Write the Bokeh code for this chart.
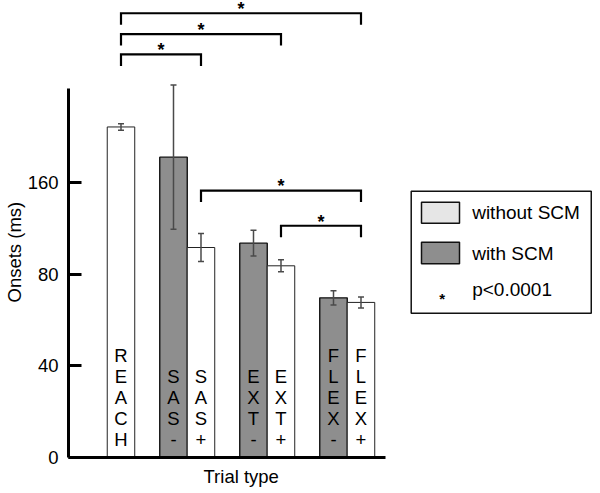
import numpy as np
from bokeh.plotting import figure
from bokeh.models import (Range1d, FixedTicker, Whisker, ColumnDataSource,
                          TeeHead, Title)
from bokeh.core.properties import value
from bokeh.embed import file_html
from bokeh.resources import INLINE

# ---------------- data ----------------
categories = ["REACH", "SAS-", "SAS+", "EXT-", "EXT+", "FLEX-", "FLEX+"]
bar_text = ["REACH", "SAS-", "SAS+", "EXT-", "EXT+", "FLEX-", "FLEX+"]
scm = ["without", "with", "without", "with", "without", "with", "without"]
onsets = [144.5, 131.3, 91.8, 93.7, 83.8, 69.8, 67.8]
errors = [1.4, 31.5, 6.1, 5.6, 2.6, 3.1, 2.4]
groups = [["REACH"], ["SAS-", "SAS+"], ["EXT-", "EXT+"], ["FLEX-", "FLEX+"]]
tick_values = [0, 40, 80, 120]
tick_labels = ["0", "40", "80", "160"]
comparisons = [("REACH", "FLEX+", 194.2), ("REACH", "EXT+", 185.1),
               ("REACH", "SAS+", 176.2), ("SAS+", "FLEX+", 116.7),
               ("EXT+", "FLEX+", 101.3)]
legend_labels = ["without SCM", "with SCM", "p<0.0001"]

FONT = "Liberation Sans"
DARK = "#8e8e8e"

# ---------------- layout of bars ----------------
bar_w = 1.0
gap = 0.909
xpos = {}
cursor = -0.5
for g in groups:
    for c in g:
        xpos[c] = cursor + bar_w / 2
        cursor += bar_w
    cursor += gap
xs = [xpos[c] for c in categories]

fills = ["white" if s == "without" else DARK for s in scm]
lines = ["#222222" if s == "without" else "#111111" for s in scm]
lw = [1.0 if s == "without" else 1.4 for s in scm]

src = ColumnDataSource(dict(
    x=xs, top=onsets, fill=fills, line=lines, lw=lw,
    upper=[o + e for o, e in zip(onsets, errors)],
    lower=[o - e for o, e in zip(onsets, errors)],
    txt=["\n".join(list(t)) for t in bar_text],
))

p = figure(width=600, height=493, output_backend="svg", toolbar_location=None,
           x_range=Range1d(-1.909, 17.436), y_range=Range1d(0, 199.78),
           min_border_left=68, min_border_right=0, min_border_top=0,
           min_border_bottom=36)
p.outline_line_color = None
p.grid.visible = False
p.background_fill_color = "white"

p.vbar(x="x", top="top", bottom=0, width=bar_w, source=src,
       fill_color="fill", line_color="line", line_width="lw")

wh = Whisker(source=src, base="x", upper="upper", lower="lower",
             line_color="#4a4a4a", line_width=1.5, level="overlay",
             upper_head=TeeHead(size=6, line_color="#4a4a4a", line_width=1.5),
             lower_head=TeeHead(size=6, line_color="#4a4a4a", line_width=1.5))
p.add_layout(wh)

p.text(x="x", y=3.1, text="txt", source=src, text_align="center",
       text_baseline="bottom", text_font=value(FONT), text_font_size="18.5px",
       text_color="black", text_line_height=1.0)

# brackets
arm = 5.0
bx, by, sx, sy = [], [], [], []
for a, b, lev in comparisons:
    x1, x2 = xpos[a], xpos[b]
    bx.append([x1, x1, x2, x2])
    by.append([lev - arm, lev, lev, lev - arm])
    sx.append((x1 + x2) / 2)
    sy.append(lev - 2.6)
p.multi_line(xs=bx, ys=by, line_color="black", line_width=2.2,
             line_join="miter")
p.text(x=sx, y=sy, text=["*"] * len(sx), text_align="center",
       text_baseline="bottom", text_font=value(FONT), text_font_size="18px",
       text_font_style="bold", text_color="black")

# axes
p.yaxis.ticker = FixedTicker(ticks=tick_values)
p.yaxis.major_label_overrides = {v: l for v, l in zip(tick_values, tick_labels)}
p.yaxis.bounds = (0, 161.3)
p.yaxis.axis_line_width = 3
p.yaxis.major_tick_line_width = 3
p.yaxis.major_tick_in = 13
p.yaxis.major_tick_out = 0
p.yaxis.minor_tick_line_color = None
p.yaxis.major_label_standoff = 10
p.yaxis.major_label_text_font = FONT
p.yaxis.major_label_text_font_size = "18.5px"
p.yaxis.major_label_text_color = "black"

p.xaxis.ticker = FixedTicker(ticks=[])
p.xaxis.bounds = (-1.909, 9.62)
p.xaxis.axis_line_width = 3
p.xaxis.major_tick_line_color = None
p.xaxis.minor_tick_line_color = None
p.xaxis.major_label_text_font_size = "0px"

# axis titles
p.add_layout(Title(text="Trial type", align="left", offset=135, standoff=13,
                   text_font=FONT, text_font_size="18.5px",
                   text_font_style="normal", text_color="black"), "below")
p.add_layout(Title(text="Onsets (ms)", align="left", offset=155, standoff=0,
                   text_font=FONT, text_font_size="18.5px",
                   text_font_style="normal", text_color="black"), "left")

# legend box
p.quad(left=10.553, right=17.10, top=116.4, bottom=63.1,
       fill_color="white", line_color="#111111", line_width=1.5)
p.quad(left=[10.927, 10.927], right=[12.309, 12.309], top=[111.6, 94.1],
       bottom=[102.4, 84.7], fill_color=["#e6e6e6", DARK],
       line_color="#111111", line_width=1.5)
p.text(x=[12.77] * 3, y=[107.1, 89.3, 73.4], text=legend_labels,
       text_align="left", text_baseline="middle", text_font=value(FONT),
       text_font_size="19px", text_color="black")
p.text(x=[11.68], y=[65.9], text=["*"], text_align="center",
       text_baseline="bottom", text_font=value(FONT), text_font_size="15px",
       text_font_style="bold", text_color="black")

open("out.html", "w").write(file_html(p, INLINE))
